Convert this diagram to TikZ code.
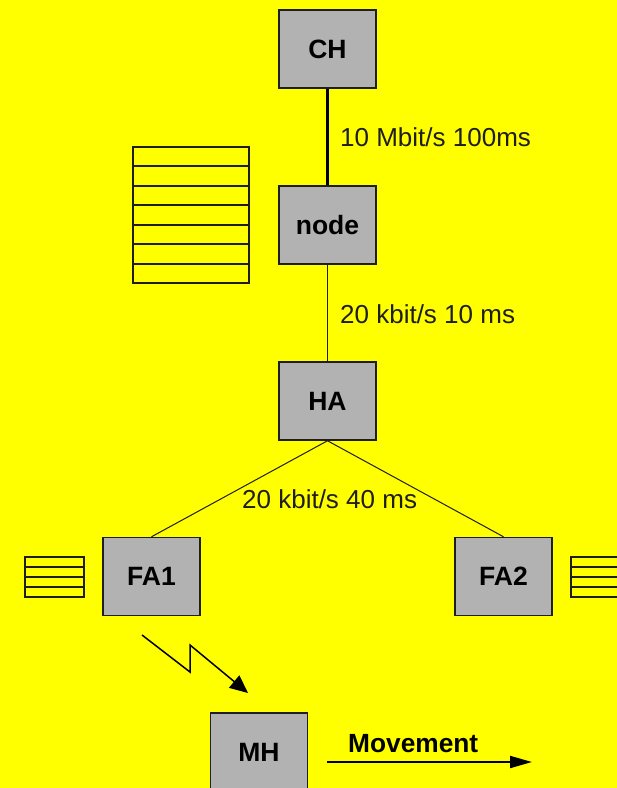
\documentclass[tikz,border=0pt]{standalone}
\usepackage{fontspec}
\setmainfont{Liberation Sans}
\usetikzlibrary{arrows.meta}
\definecolor{bg}{RGB}{255,255,0}
\definecolor{boxgray}{RGB}{178,178,178}
\definecolor{edge}{RGB}{30,30,30}
\tikzset{
  netbox/.style={draw=edge, line width=1.5pt, fill=boxgray, minimum width=97pt, minimum height=78pt, inner sep=0pt, font=\fontsize{26.5}{30}\selectfont\bfseries},
  linklabel/.style={anchor=base west, inner sep=0pt, font=\fontsize{26}{30}\selectfont, text=edge},
  queue/.style={draw=edge, line width=2pt},
}
\begin{document}
\begin{tikzpicture}[x=1pt,y=-1pt]
\useasboundingbox (0,0) rectangle (617,788);
\clip (0,0) rectangle (617,788);
\fill[bg] (0,0) rectangle (617,788);

% nodes
\node[netbox] (ch) at (327.5,49) {CH};
\node[netbox] (nd) at (327.5,225) {node};
\node[netbox] (ha) at (327.5,401) {HA};
\node[netbox] (fa1) at (151.5,576.5) {FA1};
\node[netbox] (fa2) at (503.5,576.5) {FA2};
\node[netbox] (mh) at (259,752) {MH};

% links
\draw[line width=3pt, black] (ch.south) -- (nd.north);
\draw[line width=1pt, edge] (nd.south) -- (ha.north);
\draw[line width=1pt, edge] (ha.south) -- (fa1.north);
\draw[line width=1pt, edge] (ha.south) -- (fa2.north);

% labels
\node[linklabel] (l1) at (340,146.5) {10 Mbit/s 100ms};
\node[linklabel] (l2) at (340,323) {20 kbit/s 10 ms};
\node[linklabel] (l3) at (242,508) {20 kbit/s 40 ms};

% big queue
\draw[queue] (133,147) rectangle (249,283);
\foreach \i in {1,...,6} {
  \draw[queue] (133,{147+\i*136/7}) -- (249,{147+\i*136/7});
}
% left small queue
\draw[queue] (25,557) rectangle (84,597);
\foreach \i in {1,2,3} {
  \draw[queue] (25,{557+\i*10}) -- (84,{557+\i*10});
}
% right small queue
\draw[queue] (571,557) rectangle (630,597);
\foreach \i in {1,2,3} {
  \draw[queue] (571,{557+\i*10}) -- (630,{557+\i*10});
}

% wireless lightning
\coordinate (w0) at (142,635);
\coordinate (w1) at (190,672);
\coordinate (w2) at (190,645);
\coordinate (w3) at (248,693);
\draw[line width=1.5pt, black, -{Triangle[length=18pt,width=16pt]}] (w0) -- (w1) -- (w2) -- (w3);

% movement
\coordinate (m0) at (327,762);
\coordinate (m1) at (532,762);
\draw[line width=2pt, black, -{Triangle[length=22pt,width=12pt]}] (m0) -- (m1);
\node[anchor=base west, inner sep=0pt, font=\fontsize{26.3}{30}\selectfont\bfseries] (mv) at (348,752) {Movement};
\end{tikzpicture}
\end{document}
